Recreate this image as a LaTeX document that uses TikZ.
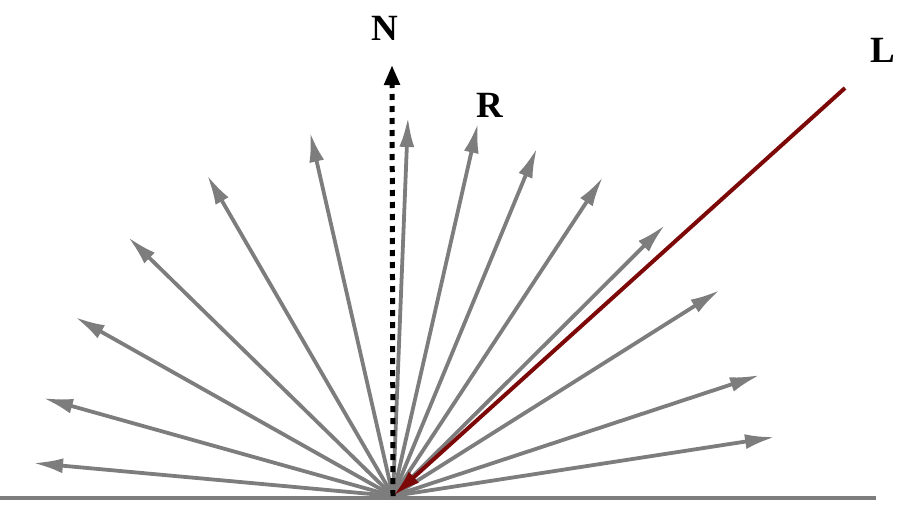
\documentclass[tikz,border=0pt]{standalone}
\usepackage{fontspec}
\setmainfont{Liberation Serif}
\usetikzlibrary{arrows.meta}
\definecolor{raygray}{RGB}{125,125,125}
\definecolor{lightred}{RGB}{125,8,8}
\tikzset{
  ray/.style={raygray, line width=3.8pt, -{Latex[length=30pt,width=15pt]}},
  lbl/.style={font=\bfseries\fontsize{37}{39}\selectfont, inner sep=0pt}
}
\begin{document}
\begin{tikzpicture}[x=1pt, y=-1pt]
    \useasboundingbox (0,0) rectangle (909,508);
    % surface
    \coordinate (O) at (393,496);
    \coordinate (gl) at (0,498);
    \coordinate (gr) at (876,498);
    \draw[raygray, line width=4pt] (gl) -- (gr);

    % scattered rays
    \foreach \x/\y [count=\i] in {33/463, 43/398, 75/317, 128/237, 207/175,
        310/132, 408/117, 478/123, 537/148, 603/177, 665/225, 720/290,
        760/375, 775/437}
        \draw[ray] (O) -- (\x,\y) coordinate (r\i);

    % normal
    \coordinate (ntip) at (392,65);
    \draw[black, line width=5pt, dash pattern=on 6pt off 6pt,
          -{Triangle[length=20pt,width=15pt]}] (O) -- (ntip);
    \node[lbl] (N) at (385,28) {N};

    % reflected
    \node[lbl] (R) at (490,105) {R};

    % light
    \coordinate (lsrc) at (845,88);
    \draw[lightred, line width=4pt, -{Latex[length=28pt,width=15pt]}]
        (lsrc) -- (O);
    \node[lbl] (L) at (883,50) {L};
\end{tikzpicture}
\end{document}
